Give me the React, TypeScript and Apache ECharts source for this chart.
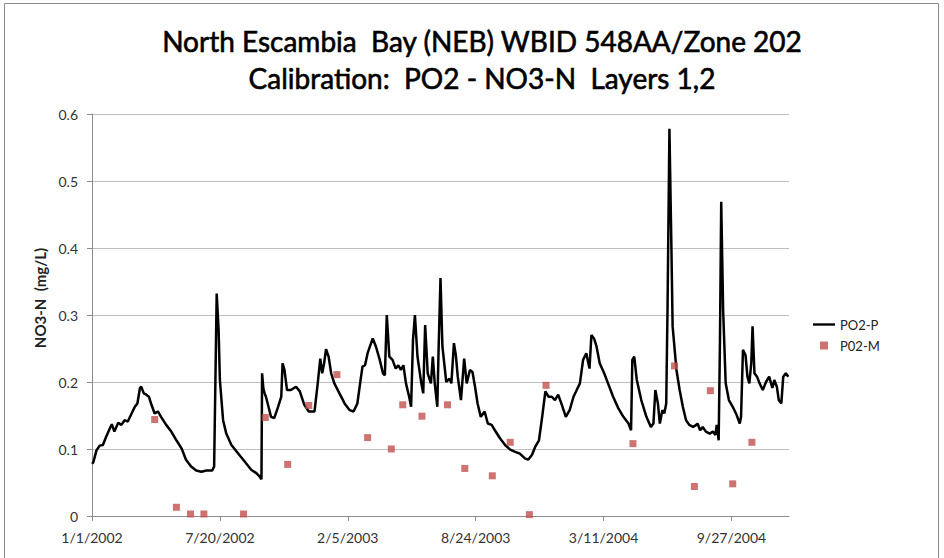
import React, { useEffect, useRef } from "react";
import * as echarts from "echarts";

// x values are days since 1/1/2002
const titleLines = ["North Escambia  Bay (NEB) WBID 548AA/Zone 202", "Calibration:  PO2 - NO3-N  Layers 1,2"];
const yAxisTitle = "NO3-N  (mg/L)";
const xTickLabels = ["1/1/2002", "7/20/2002", "2/5/2003", "8/24/2003", "3/11/2004", "9/27/2004"];
const xTickStepDays = 200;
const xMaxDays = 1090;
const yTickValues = [0, 0.1, 0.2, 0.3, 0.4, 0.5, 0.6];

const modelName = "PO2-P";
const modelDays = [
  0, 2, 7, 12, 17, 22, 28, 31, 35, 41, 46, 51, 56, 61, 67, 71, 75, 77, 81, 85, 89, 93, 98, 103, 108, 116, 124, 132, 140, 147,
  155, 163, 171, 179, 188, 191, 193, 195, 198, 200, 205, 210, 218, 228, 239, 249, 257, 262, 265, 266, 268, 270, 272, 276, 280,
  285, 291, 296, 298, 301, 305, 311, 319, 325, 332, 339, 348, 353, 357, 360, 363, 366, 370, 374, 379, 387, 395, 403, 409, 415,
  420, 423, 427, 431, 439, 444, 450, 455, 458, 461, 465, 470, 475, 479, 483, 487, 491, 496, 499, 502, 505, 509, 515, 518, 521,
  525, 530, 533, 536, 540, 542, 545, 548, 554, 559, 562, 566, 569, 572, 577, 582, 586, 591, 595, 599, 603, 608, 614, 619, 625,
  630, 638, 646, 654, 661, 669, 677, 682, 688, 693, 699, 704, 709, 714, 719, 724, 729, 734, 741, 747, 753, 758, 763, 768, 773,
  778, 781, 785, 789, 794, 801, 807, 815, 823, 831, 839, 843, 845, 848, 852, 859, 867, 874, 878, 881, 885, 888, 892, 895, 898,
  900, 903, 906, 908, 914, 919, 924, 929, 934, 940, 945, 947, 951, 955, 960, 966, 971, 975, 977, 980, 982, 984, 987, 991, 996,
  1002, 1008, 1013, 1015, 1018, 1022, 1025, 1028, 1031, 1033, 1036, 1040, 1044, 1049, 1054, 1059, 1064, 1067, 1071, 1074, 1078,
  1081, 1085, 1089,
];
const modelValues = [
  0.078, 0.08, 0.098, 0.105, 0.106, 0.118, 0.131, 0.137, 0.126, 0.139, 0.136, 0.143, 0.141, 0.151, 0.163, 0.168, 0.191, 0.193,
  0.183, 0.181, 0.178, 0.166, 0.153, 0.156, 0.148, 0.136, 0.126, 0.113, 0.101, 0.084, 0.074, 0.068, 0.066, 0.068, 0.068, 0.074,
  0.203, 0.332, 0.278, 0.203, 0.143, 0.123, 0.106, 0.094, 0.081, 0.069, 0.064, 0.059, 0.055, 0.213, 0.19, 0.183, 0.178, 0.163,
  0.148, 0.146, 0.163, 0.178, 0.228, 0.218, 0.188, 0.188, 0.193, 0.186, 0.166, 0.156, 0.156, 0.198, 0.235, 0.213, 0.228, 0.249,
  0.238, 0.213, 0.198, 0.183, 0.168, 0.158, 0.156, 0.168, 0.203, 0.223, 0.225, 0.243, 0.265, 0.253, 0.233, 0.213, 0.21, 0.3,
  0.238, 0.233, 0.22, 0.225, 0.218, 0.225, 0.198, 0.178, 0.163, 0.263, 0.3, 0.238, 0.198, 0.183, 0.285, 0.213, 0.198, 0.238,
  0.198, 0.163, 0.248, 0.355, 0.253, 0.2, 0.205, 0.198, 0.258, 0.24, 0.208, 0.173, 0.235, 0.198, 0.218, 0.215, 0.193, 0.168,
  0.148, 0.156, 0.138, 0.136, 0.128, 0.116, 0.106, 0.099, 0.096, 0.093, 0.086, 0.084, 0.091, 0.103, 0.113, 0.148, 0.186, 0.178,
  0.178, 0.173, 0.181, 0.168, 0.148, 0.158, 0.178, 0.188, 0.198, 0.233, 0.243, 0.22, 0.27, 0.265, 0.253, 0.228, 0.213, 0.198,
  0.178, 0.161, 0.148, 0.138, 0.128, 0.233, 0.238, 0.203, 0.173, 0.148, 0.133, 0.138, 0.188, 0.168, 0.138, 0.158, 0.153, 0.168,
  0.307, 0.578, 0.407, 0.283, 0.218, 0.188, 0.163, 0.143, 0.136, 0.133, 0.136, 0.138, 0.128, 0.133, 0.126, 0.123, 0.126, 0.121,
  0.136, 0.113, 0.258, 0.469, 0.307, 0.198, 0.173, 0.163, 0.151, 0.138, 0.148, 0.248, 0.24, 0.208, 0.198, 0.228, 0.283, 0.213,
  0.208, 0.198, 0.188, 0.2, 0.208, 0.191, 0.203, 0.193, 0.173, 0.168, 0.208, 0.213, 0.208,
];

const measuredName = "P02-M";
const measuredDays = [98, 132, 154, 175, 237, 271, 306, 339, 383, 431, 468, 486, 516, 556, 583, 626, 654, 684, 710, 846, 911, 942, 967, 1002, 1032];
const measuredValues = [
  0.144, 0.013, 0.003, 0.003, 0.003, 0.147, 0.077, 0.165, 0.211, 0.117, 0.1, 0.166, 0.149, 0.166, 0.071, 0.06, 0.11, 0.002,
  0.195, 0.108, 0.224, 0.044, 0.187, 0.048, 0.11,
];

const FONT = "Lato, 'Open Sans', sans-serif";

export default function App() {
  const ref = useRef<HTMLDivElement>(null);

  useEffect(() => {
    document.body.style.margin = "0";
    if (!ref.current) return;
    const chart = echarts.init(ref.current, undefined, { renderer: "svg" });

    const lineData = modelDays.map((d, i) => [d, modelValues[i]]);
    const scatterData = measuredDays.map((d, i) => [d, measuredValues[i]]);

    const titleStyle = {
      align: "center",
      verticalAlign: "middle",
      fontSize: 28,
      fontFamily: FONT,
      fill: "#000",
      stroke: "#000",
      lineWidth: 0.6,
    };

    chart.setOption({
      animation: false,
      backgroundColor: "#ffffff",
      textStyle: { fontFamily: FONT },
      graphic: [
        {
          type: "rect",
          shape: { x: 4.5, y: 3.5, width: 934, height: 620 },
          style: { fill: "none", stroke: "#8a8a8a", lineWidth: 1 },
          silent: true,
        },
        { type: "text", x: 482, y: 41, style: { ...titleStyle, text: titleLines[0] } },
        { type: "text", x: 482, y: 78, style: { ...titleStyle, text: titleLines[1] } },
        {
          type: "text",
          x: 40,
          y: 298,
          rotation: Math.PI / 2,
          style: { text: yAxisTitle, align: "center", verticalAlign: "middle", fontSize: 15, fontWeight: "bold", fontFamily: FONT, fill: "#222" },
        },
      ],
      legend: {
        orient: "vertical",
        left: 808,
        top: 313,
        itemWidth: 22,
        itemHeight: 8,
        itemGap: 8,
        textStyle: { fontSize: 13, color: "#222", fontFamily: FONT },
        data: [
          { name: modelName, icon: "path://M0 0H22V2.4H0Z" },
          { name: measuredName, icon: "path://M0 0H10V10H0Z" },
        ],
      },
      grid: { left: 92, right: 155, top: 114, bottom: 42 },
      xAxis: {
        type: "value",
        min: 0,
        max: xMaxDays,
        interval: xTickStepDays,
        axisLine: { show: true, lineStyle: { color: "#8c8c8c", width: 1 } },
        axisTick: { show: true, length: 5, lineStyle: { color: "#8c8c8c" } },
        splitLine: { show: false },
        axisLabel: {
          margin: 14,
          fontSize: 14,
          color: "#333",
          fontFamily: FONT,
          showMaxLabel: false,
          formatter: (v: number) => {
            const idx = Math.round(v / xTickStepDays);
            return Math.abs(v - idx * xTickStepDays) < 1e-6 && idx < xTickLabels.length ? xTickLabels[idx] : "";
          },
        },
      },
      yAxis: {
        type: "value",
        min: yTickValues[0],
        max: yTickValues[yTickValues.length - 1],
        interval: 0.1,
        axisLine: { show: true, lineStyle: { color: "#8c8c8c", width: 1 } },
        axisTick: { show: true, length: 5, lineStyle: { color: "#8c8c8c" } },
        splitLine: { show: true, lineStyle: { color: "#bfbfbf", width: 1 } },
        axisLabel: {
          margin: 14,
          fontSize: 14,
          color: "#333",
          fontFamily: FONT,
          formatter: (v: number) => (Math.abs(v) < 1e-9 ? "0" : v.toFixed(1)),
        },
      },
      series: [
        {
          name: modelName,
          type: "line",
          data: lineData,
          symbol: "none",
          lineStyle: { color: "#000", width: 2.5 },
          itemStyle: { color: "#000" },
          z: 3,
        },
        {
          name: measuredName,
          type: "scatter",
          data: scatterData,
          symbol: "rect",
          symbolSize: 7,
          itemStyle: { color: "#c0504d" },
          z: 4,
        },
      ],
    });

    return () => chart.dispose();
  }, []);

  return <div ref={ref} style={{ width: 944, height: 558 }} />;
}
